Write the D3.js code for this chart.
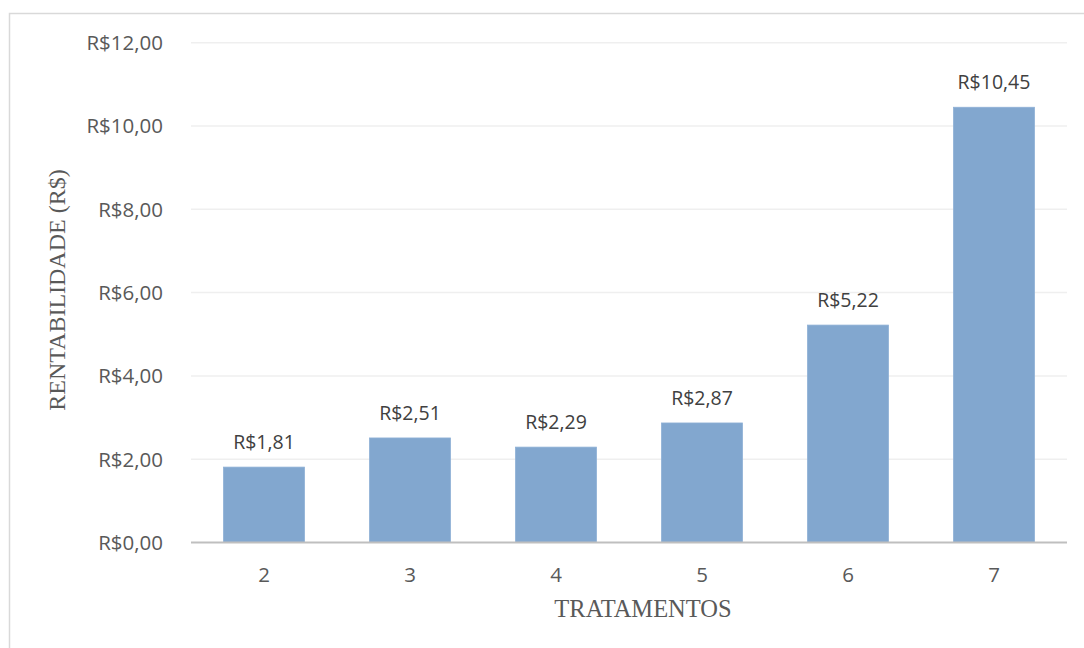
<!DOCTYPE html>
<html><head><meta charset="utf-8">
<script src="https://cdn.jsdelivr.net/npm/d3@7"></script>
<style>body{margin:0;background:#fff}svg{display:block}</style>
</head><body>
<script>
const categories = ["2","3","4","5","6","7"];
const values = [1.81, 2.51, 2.29, 2.87, 5.22, 10.45];
const yTicks = [0, 2, 4, 6, 8, 10, 12];
const xTitle = "TRATAMENTOS";
const yTitle = "RENTABILIDADE (R$)";

(function () {
const W = 1084, H = 648;
const svg = d3.select("body").append("svg").attr("width", W).attr("height", H);
svg.append("rect").attr("x", 9.5).attr("y", 13.5).attr("width", 1100).attr("height", 700)
  .attr("fill", "#fff").attr("stroke", "#d9d9d9").attr("stroke-width", 1.5);

const pLeft = 191, pRight = 1067, pTop = 42.7, pBottom = 542.5;
const x = d3.scaleBand().domain(categories).range([pLeft, pRight]).paddingInner(0.445).paddingOuter(0.2225);
const y = d3.scaleLinear().domain([0, 12]).range([pBottom, pTop]);
const fmt = v => "R$" + v.toFixed(2).replace(".", ",");
const sans = "'Open Sans', sans-serif";

svg.append("g").selectAll("line").data(yTicks.filter(d => d > 0)).join("line")
  .attr("x1", pLeft).attr("x2", pRight).attr("y1", d => y(d)).attr("y2", d => y(d))
  .attr("stroke", "#efefef").attr("stroke-width", 1.5);

svg.append("g").selectAll("text").data(yTicks).join("text")
  .attr("x", 163).attr("y", d => y(d)).attr("dy", "0.36em").attr("text-anchor", "end")
  .attr("font-family", sans).attr("font-size", 20.5).attr("fill", "#595959")
  .text(d => fmt(d));

svg.append("g").selectAll("rect").data(values).join("rect")
  .attr("x", (d, i) => x(categories[i])).attr("width", x.bandwidth())
  .attr("y", d => y(d)).attr("height", d => y(0) - y(d))
  .attr("fill", "#82a7cf").attr("stroke", "#8fb1d6").attr("stroke-width", 0.8);

svg.append("line").attr("x1", pLeft).attr("x2", pRight).attr("y1", y(0)).attr("y2", y(0))
  .attr("stroke", "#bfbfbf").attr("stroke-width", 2.2);

svg.append("g").selectAll("text").data(values).join("text")
  .attr("x", (d, i) => x(categories[i]) + x.bandwidth() / 2).attr("y", d => y(d) - 18)
  .attr("text-anchor", "middle")
  .attr("font-family", sans).attr("font-size", 19.5).attr("fill", "#404040")
  .text(d => fmt(d));

svg.append("g").selectAll("text").data(categories).join("text")
  .attr("x", d => x(d) + x.bandwidth() / 2).attr("y", 575).attr("dy", "0.36em")
  .attr("text-anchor", "middle")
  .attr("font-family", sans).attr("font-size", 20.5).attr("fill", "#595959")
  .text(d => d);

svg.append("text").attr("x", 643).attr("y", 617).attr("text-anchor", "middle")
  .attr("font-family", "'Liberation Serif', serif").attr("font-size", 24.5).attr("fill", "#595959")
  .text(xTitle);

svg.append("text").attr("transform", "translate(65,290) rotate(-90)").attr("text-anchor", "middle")
  .attr("font-family", "'Liberation Serif', serif").attr("font-size", 24).attr("fill", "#595959")
  .text(yTitle);
})();
</script>
</body></html>
